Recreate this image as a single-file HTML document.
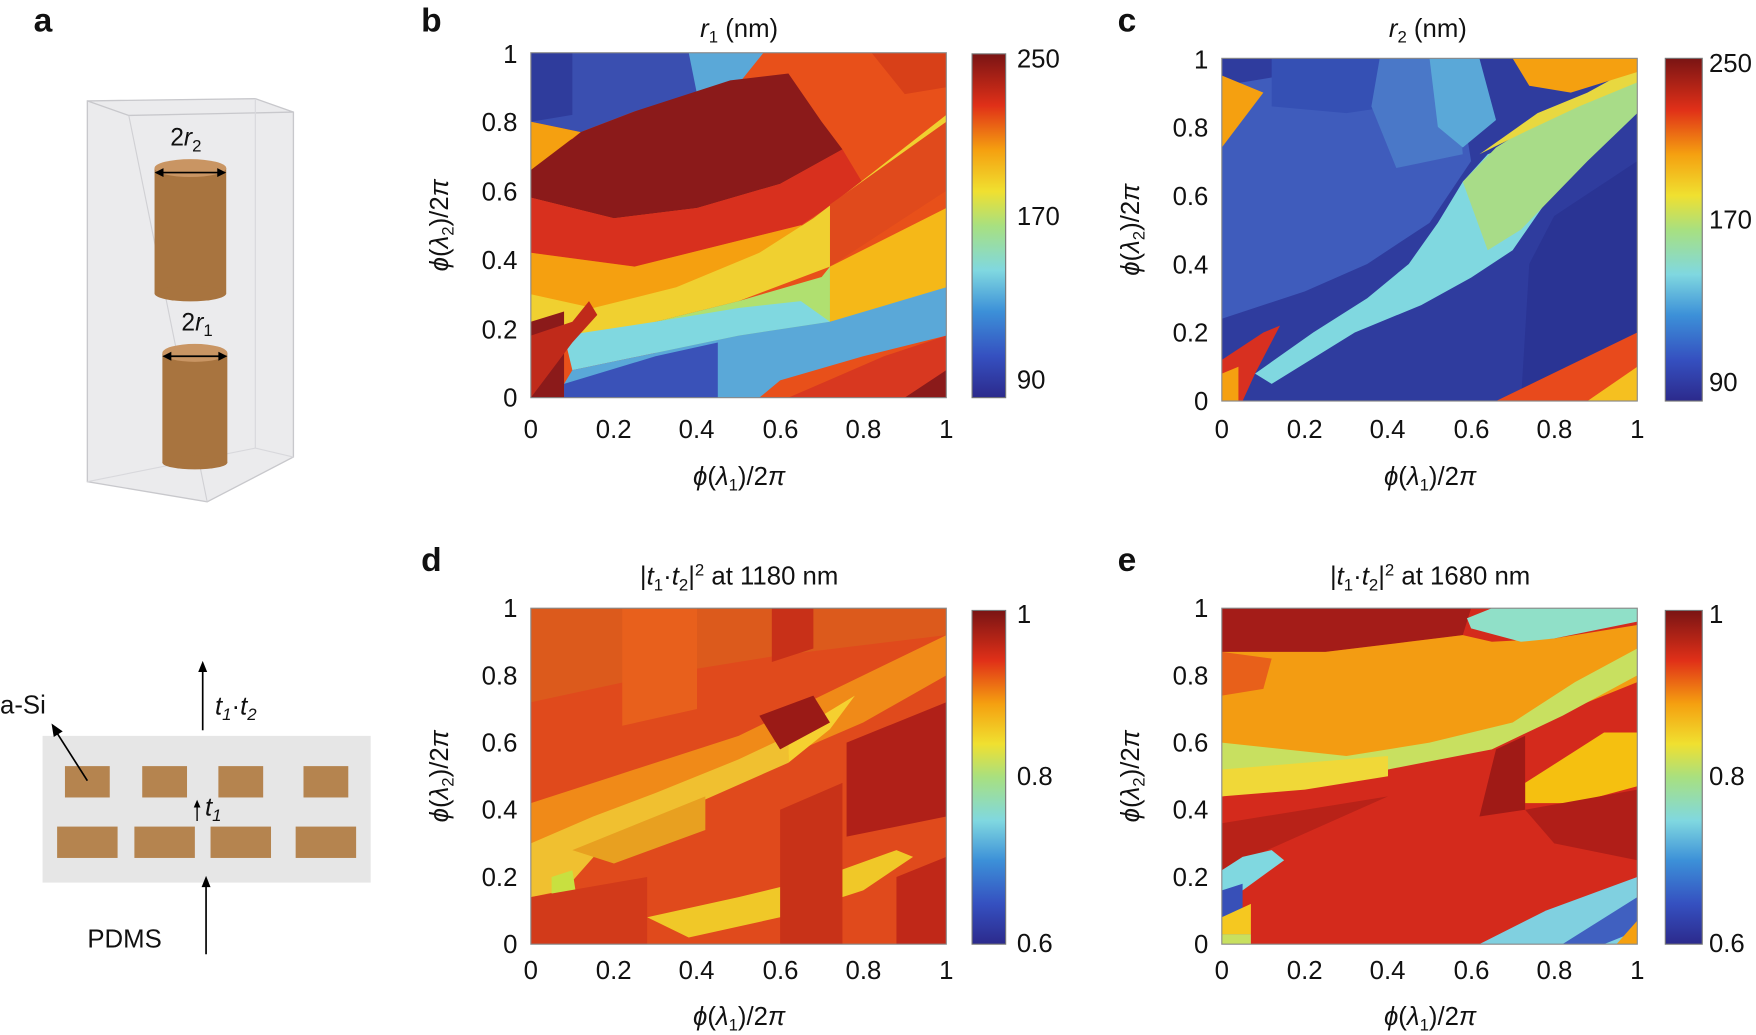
<!DOCTYPE html>
<html><head><meta charset="utf-8"><style>
html,body{margin:0;padding:0;background:#fff;}
svg{display:block;font-family:"Liberation Sans",sans-serif;}
.t{font-size:23px;fill:#111;}
.L{font-size:30px;font-weight:bold;fill:#111;}
</style></head><body>
<svg width="1756" height="1035" viewBox="0 0 1568 924" xmlns="http://www.w3.org/2000/svg">
<defs>
<linearGradient id="jet" x1="0" y1="1" x2="0" y2="0">
<stop offset="0" stop-color="#2c2a8c"/><stop offset="0.12" stop-color="#3550c0"/>
<stop offset="0.25" stop-color="#3c90d8"/><stop offset="0.37" stop-color="#80d8e0"/>
<stop offset="0.5" stop-color="#a8e080"/><stop offset="0.6" stop-color="#f0e030"/>
<stop offset="0.72" stop-color="#f5a010"/><stop offset="0.85" stop-color="#e03018"/>
<stop offset="1" stop-color="#7a1414"/>
</linearGradient>
</defs>

<text x="30" y="28" class="L">a</text>
<text x="376" y="28" class="L">b</text>
<text x="998" y="28" class="L">c</text>
<text x="376" y="510" class="L">d</text>
<text x="998" y="510" class="L">e</text>

<polygon points="78,90 228,88 262,100 262,408 185,448 78,430" fill="#ebebed" stroke="#c8c8cc" stroke-width="1.2"/>
<polyline points="78,90 115,103 262,100" fill="none" stroke="#c8c8cc" stroke-width="1.2"/>
<line x1="115" y1="103" x2="185" y2="448" stroke="#d0d0d4" stroke-width="1"/>
<polyline points="78,430 228,400 262,408" fill="none" stroke="#d8d8dc" stroke-width="1"/>
<line x1="228" y1="88" x2="228" y2="400" stroke="#d8d8dc" stroke-width="1"/>
<rect x="138" y="150" width="64" height="112" fill="#a8743f"/>
<ellipse cx="170" cy="262" rx="32" ry="7" fill="#a8743f"/>
<ellipse cx="170" cy="150" rx="32" ry="8" fill="#c99563"/>
<line x1="140" y1="154" x2="200" y2="154" stroke="#000" stroke-width="1.5"/>
<polygon points="138,154 146,150 146,158" fill="#000"/><polygon points="202,154 194,150 194,158" fill="#000"/>
<text x="152" y="130" class="t" style="font-size:22px">2<tspan font-style="italic">r</tspan><tspan font-size="15" dy="5">2</tspan></text>
<rect x="145" y="315" width="58" height="98" fill="#a8743f"/>
<ellipse cx="174" cy="413" rx="29" ry="6" fill="#a8743f"/>
<ellipse cx="174" cy="315" rx="29" ry="8" fill="#c99563"/>
<line x1="147" y1="318" x2="201" y2="318" stroke="#000" stroke-width="1.5"/>
<polygon points="145,318 153,314 153,322" fill="#000"/><polygon points="203,318 195,314 195,322" fill="#000"/>
<text x="162" y="295" class="t" style="font-size:22px">2<tspan font-style="italic">r</tspan><tspan font-size="15" dy="5">1</tspan></text>

<rect x="38" y="657" width="293" height="131" fill="#e6e6e6"/>
<g fill="#b5844f">
<rect x="58" y="684" width="40" height="28"/><rect x="127" y="684" width="40" height="28"/>
<rect x="195" y="684" width="40" height="28"/><rect x="271" y="684" width="40" height="28"/>
<rect x="51" y="738" width="54" height="28"/><rect x="120" y="738" width="54" height="28"/>
<rect x="188" y="738" width="54" height="28"/><rect x="264" y="738" width="54" height="28"/>
</g>
<line x1="181" y1="652" x2="181" y2="596" stroke="#000" stroke-width="1.5"/><polygon points="181,590 177,600 185,600" fill="#000"/>
<text x="192" y="638" class="t" font-style="italic">t<tspan font-size="15" dy="5">1</tspan><tspan dy="-5" font-style="normal">·</tspan>t<tspan font-size="15" dy="5">2</tspan></text>
<line x1="184" y1="852" x2="184" y2="788" stroke="#000" stroke-width="1.5"/><polygon points="184,782 180,792 188,792" fill="#000"/>
<text x="78" y="846" class="t">PDMS</text>
<line x1="176" y1="733" x2="176" y2="719" stroke="#000" stroke-width="1.2"/><polygon points="176,714 173,721 179,721" fill="#000"/>
<text x="183" y="728" class="t" font-style="italic">t<tspan font-size="15" dy="5">1</tspan></text>
<text x="0" y="637" class="t">a-Si</text>
<line x1="78" y1="697" x2="50" y2="653" stroke="#000" stroke-width="1.5"/><polygon points="46,646 48,658 56,653" fill="#000"/>

<!-- Panel b -->
<text x="660" y="33" class="t" text-anchor="middle"><tspan font-style="italic">r</tspan><tspan font-size="15" dy="5">1</tspan><tspan dy="-5"> (nm)</tspan></text>
<svg x="474" y="47" width="371" height="308" viewBox="0 0 100 100" preserveAspectRatio="none">
<rect width="100" height="100" fill="#e8501a"/>
<polygon points="0,0 48,0 48,6 40,12 25,17 12,23 0,20" fill="#3a4fb0"/>
<polygon points="0,0 10,0 10,18 0,20" fill="#2f3c9c"/>
<polygon points="38,0 56,0 50,9 40,12" fill="#5aa8d8"/>
<polygon points="82,0 100,0 100,10 90,12" fill="#d84018"/>
<polygon points="12,23 25,17 48,8 62,6 70,20 75,28 60,38 40,45 20,48 0,42 0,30 10,25" fill="#8b1a1a"/>
<polygon points="0,20 12,23 0,34" fill="#f5a010"/>
<polygon points="0,42 20,48 40,45 60,38 75,28 80,38 65,50 45,56 25,62 0,58" fill="#d8301e"/>
<polygon points="0,58 25,62 45,56 65,50 70,52 55,62 35,70 15,75 0,72" fill="#f5a010"/>
<polygon points="0,70 15,74 35,68 55,58 68,48 82,35 100,18 100,35 80,55 72,62 50,72 30,78 10,84 0,86" fill="#f0d030"/>
<polygon points="30,78 50,72 70,65 72,62 72,80 55,85 30,88" fill="#b0e070"/>
<polygon points="72,44 100,20 100,40 72,62" fill="#e04a1c"/>
<polygon points="72,62 100,45 100,70 85,75 72,78" fill="#f5b818"/>
<polygon points="8,82 30,78 50,74 65,72 72,78 50,82 30,87 10,92" fill="#80d8e0"/>
<polygon points="10,92 30,87 50,82 72,78 100,68 100,82 80,88 60,95 55,100 8,100 8,96" fill="#5aa8d8"/>
<polygon points="8,96 30,88 45,84 45,100 8,100" fill="#3a52b8"/>
<polygon points="62,100 85,88 100,82 100,100" fill="#d83820"/>
<polygon points="90,100 100,92 100,100" fill="#8b1a1a"/>
<polygon points="0,78 8,75 8,100 0,100" fill="#8b1a1a"/>
<polygon points="0,100 0,82 10,78 14,72 16,76 10,84" fill="#c02a1a"/>
</svg>
<rect x="474" y="47" width="371" height="308" fill="none" stroke="#888" stroke-width="1"/>
<rect x="868" y="48" width="30" height="307" fill="url(#jet)" stroke="#777" stroke-width="1"/>
<text x="908" y="60" class="t">250</text><text x="908" y="201" class="t">170</text><text x="908" y="347" class="t">90</text>
<g class="t" text-anchor="end">
<text x="462" y="363">0</text><text x="462" y="302">0.2</text><text x="462" y="240">0.4</text><text x="462" y="179">0.6</text><text x="462" y="117">0.8</text><text x="462" y="56">1</text>
</g>
<g class="t" text-anchor="middle">
<text x="474" y="391">0</text><text x="548" y="391">0.2</text><text x="622" y="391">0.4</text><text x="697" y="391">0.6</text><text x="771" y="391">0.8</text><text x="845" y="391">1</text>
</g>
<text x="660" y="433" class="t" text-anchor="middle"><tspan font-style="italic">ϕ</tspan>(<tspan font-style="italic">λ</tspan><tspan font-size="15" dy="5">1</tspan><tspan dy="-5">)/2</tspan><tspan font-style="italic">π</tspan></text>
<text transform="translate(400,201) rotate(-90)" class="t" text-anchor="middle"><tspan font-style="italic">ϕ</tspan>(<tspan font-style="italic">λ</tspan><tspan font-size="15" dy="5">2</tspan><tspan dy="-5">)/2</tspan><tspan font-style="italic">π</tspan></text>

<!-- Panel c -->
<text x="1275" y="33" class="t" text-anchor="middle"><tspan font-style="italic">r</tspan><tspan font-size="15" dy="5">2</tspan><tspan dy="-5"> (nm)</tspan></text>
<svg x="1091" y="52" width="371" height="306" viewBox="0 0 100 100" preserveAspectRatio="none">
<rect width="100" height="100" fill="#2f3c9e"/>
<polygon points="0,8 20,4 45,0 56,0 60,30 50,48 35,60 20,68 0,76" fill="#3f5cbc"/>
<polygon points="12,0 56,0 52,12 30,16 12,14" fill="#3550b4"/>
<polygon points="38,0 56,0 58,28 42,32 36,14" fill="#4a78c8"/>
<polygon points="0,5 10,10 0,26" fill="#f5a010"/>
<polygon points="50,0 62,0 66,18 58,26 52,20" fill="#5aa8d8"/>
<polygon points="8,92 22,80 35,70 45,60 52,48 58,36 64,28 72,24 80,20 86,28 78,42 70,56 60,64 48,72 32,80 12,95" fill="#80d8e0"/>
<polygon points="58,36 66,26 74,20 82,14 100,6 100,16 88,30 80,40 72,50 64,56" fill="#a8dc88"/>
<polygon points="62,28 76,16 88,10 100,2 100,7 86,14 72,22" fill="#e8d840"/>
<polygon points="70,0 100,0 100,4 84,10 74,8" fill="#f5a010"/>
<polygon points="80,46 100,30 100,85 80,100 72,100 74,60" fill="#2a3494"/>
<polygon points="66,100 100,80 100,100" fill="#e84a1c"/>
<polygon points="88,100 100,90 100,100" fill="#f5c020"/>
<polygon points="0,88 10,80 14,78 8,92 5,100 0,100" fill="#d83020"/>
<polygon points="0,92 4,90 4,100 0,100" fill="#f5a010"/>
</svg>
<rect x="1091" y="52" width="371" height="306" fill="none" stroke="#888" stroke-width="1"/>
<rect x="1487" y="52" width="33" height="306" fill="url(#jet)" stroke="#777" stroke-width="1"/>
<text x="1526" y="64" class="t">250</text><text x="1526" y="204" class="t">170</text><text x="1526" y="349" class="t">90</text>
<g class="t" text-anchor="end">
<text x="1079" y="366">0</text><text x="1079" y="305">0.2</text><text x="1079" y="244">0.4</text><text x="1079" y="183">0.6</text><text x="1079" y="122">0.8</text><text x="1079" y="61">1</text>
</g>
<g class="t" text-anchor="middle">
<text x="1091" y="391">0</text><text x="1165" y="391">0.2</text><text x="1239" y="391">0.4</text><text x="1314" y="391">0.6</text><text x="1388" y="391">0.8</text><text x="1462" y="391">1</text>
</g>
<text x="1277" y="433" class="t" text-anchor="middle"><tspan font-style="italic">ϕ</tspan>(<tspan font-style="italic">λ</tspan><tspan font-size="15" dy="5">1</tspan><tspan dy="-5">)/2</tspan><tspan font-style="italic">π</tspan></text>
<text transform="translate(1017,205) rotate(-90)" class="t" text-anchor="middle"><tspan font-style="italic">ϕ</tspan>(<tspan font-style="italic">λ</tspan><tspan font-size="15" dy="5">2</tspan><tspan dy="-5">)/2</tspan><tspan font-style="italic">π</tspan></text>

<!-- Panel d -->
<text x="660" y="522" class="t" text-anchor="middle">|<tspan font-style="italic">t</tspan><tspan font-size="15" dy="5">1</tspan><tspan dy="-5">·</tspan><tspan font-style="italic">t</tspan><tspan font-size="15" dy="5">2</tspan><tspan dy="-5">|</tspan><tspan font-size="15" dy="-8">2</tspan><tspan dy="8"> at 1180 nm</tspan></text>
<svg x="474" y="543" width="371" height="300" viewBox="0 0 100 100" preserveAspectRatio="none">
<rect width="100" height="100" fill="#e04a1c"/>
<polygon points="0,0 100,0 100,8 60,14 30,20 0,28" fill="#dc5a1c"/>
<polygon points="22,0 40,0 40,30 22,35" fill="#e8601c"/>
<polygon points="58,0 68,0 68,12 58,16" fill="#c83018"/>
<polygon points="0,58 20,50 50,38 80,20 100,8 100,20 80,34 50,50 20,64 0,70" fill="#f08a18"/>
<polygon points="0,70 15,62 30,55 50,45 62,38 62,46 40,58 18,70 8,84 0,86" fill="#f0c030"/>
<polygon points="62,38 78,26 72,36 62,46" fill="#f5d030"/>
<polygon points="55,32 68,26 72,34 60,42" fill="#9a1a16"/>
<polygon points="76,40 100,28 100,62 76,68" fill="#b02018"/>
<polygon points="10,72 30,62 42,56 42,66 20,76" fill="#e8a020"/>
<polygon points="28,92 50,86 70,80 88,72 92,74 80,84 60,92 38,98" fill="#f0c828"/>
<polygon points="5,80 10,78 11,86 5,88" fill="#c8e040"/>
<polygon points="0,86 28,80 28,100 0,100" fill="#d23a1a"/>
<polygon points="60,60 75,52 75,100 60,100" fill="#c83218"/>
<polygon points="88,80 100,74 100,100 88,100" fill="#c02818"/>
</svg>
<rect x="474" y="543" width="371" height="300" fill="none" stroke="#888" stroke-width="1"/>
<rect x="868" y="545" width="30" height="298" fill="url(#jet)" stroke="#777" stroke-width="1"/>
<text x="908" y="556" class="t">1</text><text x="908" y="701" class="t">0.8</text><text x="908" y="850" class="t">0.6</text>
<g class="t" text-anchor="end">
<text x="462" y="851">0</text><text x="462" y="791">0.2</text><text x="462" y="731">0.4</text><text x="462" y="671">0.6</text><text x="462" y="611">0.8</text><text x="462" y="551">1</text>
</g>
<g class="t" text-anchor="middle">
<text x="474" y="874">0</text><text x="548" y="874">0.2</text><text x="622" y="874">0.4</text><text x="697" y="874">0.6</text><text x="771" y="874">0.8</text><text x="845" y="874">1</text>
</g>
<text x="660" y="915" class="t" text-anchor="middle"><tspan font-style="italic">ϕ</tspan>(<tspan font-style="italic">λ</tspan><tspan font-size="15" dy="5">1</tspan><tspan dy="-5">)/2</tspan><tspan font-style="italic">π</tspan></text>
<text transform="translate(400,693) rotate(-90)" class="t" text-anchor="middle"><tspan font-style="italic">ϕ</tspan>(<tspan font-style="italic">λ</tspan><tspan font-size="15" dy="5">2</tspan><tspan dy="-5">)/2</tspan><tspan font-style="italic">π</tspan></text>

<!-- Panel e -->
<text x="1277" y="522" class="t" text-anchor="middle">|<tspan font-style="italic">t</tspan><tspan font-size="15" dy="5">1</tspan><tspan dy="-5">·</tspan><tspan font-style="italic">t</tspan><tspan font-size="15" dy="5">2</tspan><tspan dy="-5">|</tspan><tspan font-size="15" dy="-8">2</tspan><tspan dy="8"> at 1680 nm</tspan></text>
<svg x="1091" y="543" width="371" height="300" viewBox="0 0 100 100" preserveAspectRatio="none">
<rect width="100" height="100" fill="#d42a1c"/>
<polygon points="0,0 60,0 58,8 45,10 25,13 10,15 0,13" fill="#a41c18"/>
<polygon points="0,13 25,13 45,10 58,8 65,10 80,9 100,5 100,22 88,28 70,36 50,42 30,46 0,42" fill="#f39c12"/>
<polygon points="0,13 12,15 10,24 0,26" fill="#e8601a"/>
<polygon points="59,3 65,0 100,0 100,4 80,9 72,10 60,6" fill="#90e0c8"/>
<polygon points="0,40 30,44 50,40 70,34 85,22 100,12 100,20 82,32 65,42 40,48 20,52 0,56" fill="#c8e060"/>
<polygon points="0,48 20,46 40,44 40,50 20,54 0,56" fill="#f0d838"/>
<polygon points="73,52 92,37 100,37 100,53 85,58 73,58" fill="#f5c010"/>
<polygon points="66,42 73,38 73,60 62,62" fill="#a01a16"/>
<polygon points="73,60 100,54 100,75 80,70" fill="#b01e18"/>
<polygon points="0,64 40,56 0,78" fill="#b82218"/>
<polygon points="0,78 5,74 12,72 15,75 5,84 0,88" fill="#80d8e0"/>
<polygon points="0,84 5,82 5,92 0,92" fill="#3850b8"/>
<polygon points="0,92 7,88 7,97 0,97" fill="#f5c820"/>
<polygon points="0,97 7,97 7,100 0,100" fill="#c8e060"/>
<polygon points="62,100 78,90 100,80 100,100" fill="#80d0e0"/>
<polygon points="82,100 100,86 100,96 92,100" fill="#4060c0"/>
<polygon points="95,100 100,93 100,100" fill="#f5a010"/>
</svg>
<rect x="1091" y="543" width="371" height="300" fill="none" stroke="#888" stroke-width="1"/>
<rect x="1487" y="545" width="33" height="298" fill="url(#jet)" stroke="#777" stroke-width="1"/>
<text x="1526" y="556" class="t">1</text><text x="1526" y="701" class="t">0.8</text><text x="1526" y="850" class="t">0.6</text>
<g class="t" text-anchor="end">
<text x="1079" y="851">0</text><text x="1079" y="791">0.2</text><text x="1079" y="731">0.4</text><text x="1079" y="671">0.6</text><text x="1079" y="611">0.8</text><text x="1079" y="551">1</text>
</g>
<g class="t" text-anchor="middle">
<text x="1091" y="874">0</text><text x="1165" y="874">0.2</text><text x="1239" y="874">0.4</text><text x="1314" y="874">0.6</text><text x="1388" y="874">0.8</text><text x="1462" y="874">1</text>
</g>
<text x="1277" y="915" class="t" text-anchor="middle"><tspan font-style="italic">ϕ</tspan>(<tspan font-style="italic">λ</tspan><tspan font-size="15" dy="5">1</tspan><tspan dy="-5">)/2</tspan><tspan font-style="italic">π</tspan></text>
<text transform="translate(1017,693) rotate(-90)" class="t" text-anchor="middle"><tspan font-style="italic">ϕ</tspan>(<tspan font-style="italic">λ</tspan><tspan font-size="15" dy="5">2</tspan><tspan dy="-5">)/2</tspan><tspan font-style="italic">π</tspan></text>
</svg>
</body></html>
